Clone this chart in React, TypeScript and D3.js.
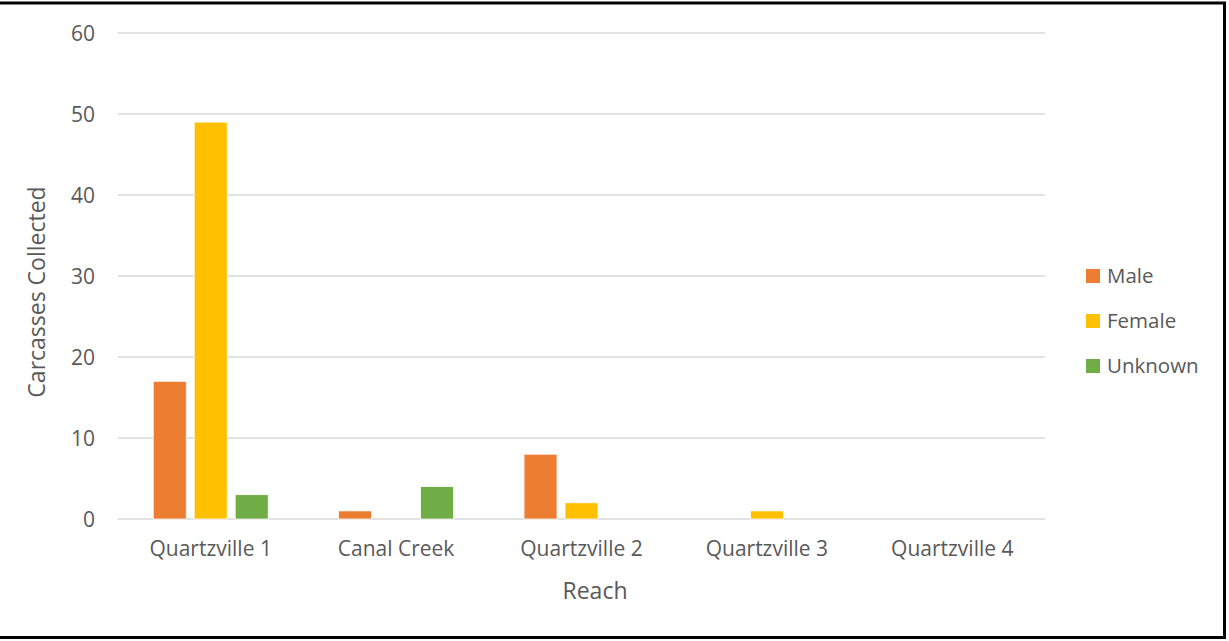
import React from "react";
import * as d3 from "d3";

const categories = ["Quartzville 1", "Canal Creek", "Quartzville 2", "Quartzville 3", "Quartzville 4"];
const seriesNames = ["Male", "Female", "Unknown"];
const maleValues = [17, 1, 8, 0, 0];
const femaleValues = [49, 0, 2, 1, 0];
const unknownValues = [3, 4, 0, 0, 0];
const seriesColors = ["#ED7D31", "#FFC000", "#70AD47"];
const yTicks = [0, 10, 20, 30, 40, 50, 60];

const W = 1229;
const H = 641;
const FONT = "'Open Sans', 'Noto Sans', sans-serif";
const TEXT = "#595959";

export default function App() {
  const plotLeft = 118;
  const plotRight = 1045;
  const plotTop = 33;
  const plotBottom = 519;

  const y = d3.scaleLinear().domain([0, 60]).range([plotBottom, plotTop]);
  const x = d3.scaleBand<string>().domain(categories).range([plotLeft, plotRight]).padding(0);
  const bw = x.bandwidth();
  const groupW = bw * 0.62;
  const sub = d3
    .scaleBand<string>()
    .domain(seriesNames)
    .range([(bw - groupW) / 2, (bw + groupW) / 2])
    .paddingInner(0.195)
    .paddingOuter(0);

  const values = [maleValues, femaleValues, unknownValues];

  return (
    <svg
      width={W}
      height={H}
      style={{ position: "absolute", left: 0, top: 0, background: "#fff" }}
      fontFamily={FONT}
    >
      <rect x={0} y={0} width={W} height={H} fill="#fff" />
      {yTicks.map((t) => (
        <line
          key={t}
          x1={plotLeft}
          x2={plotRight}
          y1={y(t)}
          y2={y(t)}
          stroke="#D9D9D9"
          strokeWidth={1.5}
        />
      ))}
      {yTicks.map((t) => (
        <text
          key={"l" + t}
          x={95}
          y={y(t)}
          dy="0.36em"
          textAnchor="end"
          fontSize={21}
          fill={TEXT}
        >
          {t}
        </text>
      ))}
      {seriesNames.map((s, si) =>
        categories.map((c, ci) => {
          const v = values[si][ci];
          if (v <= 0) return null;
          return (
            <rect
              key={s + c}
              x={(x(c) as number) + (sub(s) as number)}
              y={y(v)}
              width={sub.bandwidth()}
              height={y(0) - y(v)}
              fill={seriesColors[si]}
              stroke="#fff"
              strokeWidth={0.75}
            />
          );
        })
      )}
      {categories.map((c) => (
        <text
          key={"x" + c}
          x={(x(c) as number) + bw / 2}
          y={555.5}
          textAnchor="middle"
          fontSize={21}
          fill={TEXT}
        >
          {c}
        </text>
      ))}
      <text x={595} y={599} textAnchor="middle" fontSize={23} fill={TEXT}>
        Reach
      </text>
      <text
        transform={`translate(45, 292) rotate(-90)`}
        textAnchor="middle"
        fontSize={23}
        fill={TEXT}
      >
        Carcasses Collected
      </text>
      {seriesNames.map((s, i) => (
        <g key={"lg" + s} transform={`translate(1086, ${269 + i * 45})`}>
          <rect x={0} y={0} width={14} height={14} fill={seriesColors[i]} />
          <text x={21} y={13.5} fontSize={20.5} fill={TEXT}>
            {s}
          </text>
        </g>
      ))}
      <rect x={-10} y={3} width={1234.5} height={634.5} fill="none" stroke="#000" strokeWidth={3} />
    </svg>
  );
}
